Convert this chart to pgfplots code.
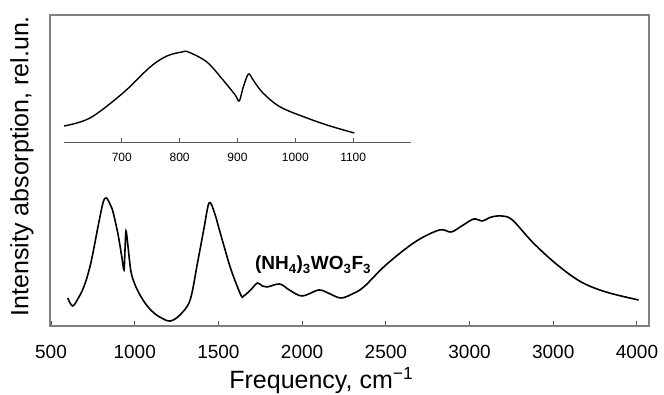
\documentclass[border=0pt]{standalone}
\usepackage{pgfplots}
\pgfplotsset{compat=1.18}
\usepackage{fontspec}
\setmainfont{Liberation Sans}
\begin{document}
\begin{tikzpicture}[x=1pt,y=1pt]
\useasboundingbox (-50,-69) rectangle (614,326);
\begin{axis}[
  name=main, at={(0pt,0pt)}, anchor=south west,
  scale only axis, width=599pt, height=311pt,
  xmin=494, xmax=4072, ymin=0, ymax=311,
  xtick={500,1000,1500,2000,2500,3000,3500,4000},
  xticklabels={500,1000,1500,2000,2500,3000,3000,4000},
  ytick=\empty,
  xtick pos=lower, tick align=inside, major tick length=5pt,
  axis line style={black!50, line width=1.3pt},
  every tick/.style={black!65, line width=1pt},
  /pgf/number format/assume math mode=true,
  xticklabel style={font=\fontsize{19}{19}\selectfont, anchor=center, yshift=-26pt, inner sep=0pt},
  xlabel={Frequency, cm\textsuperscript{−1}},
  ylabel={Intensity absorption, rel.un.},
  every axis x label/.style={at={(axis description cs:0.453,0)}, anchor=center, yshift=-55pt, font=\fontsize{25}{25}\selectfont},
  every axis y label/.style={at={(axis description cs:-0.0467,0.514)}, anchor=center, rotate=90, font=\fontsize{25}{25}\selectfont},
  clip=false,
]
\addplot[black, line width=1.6pt, smooth, tension=0.55] coordinates {
(600,28) (628,20) (660,27) (698,40) (738,63) (785,103) (812,124) (831,128) (855,121) (872,113)
(901,91) (924,68) (936,56) (942,76) (948,95) (959,81) (977,55) (1000,42) (1035,30)
(1075,20) (1115,13) (1160,8) (1212,5) (1270,11) (1331,26) (1375,63) (1412,96) (1444,123) (1475,114)
(1506,96) (1535,79) (1576,56) (1634,31) (1651,30) (1692,36) (1733,43) (1762,40)
(1791,39) (1866,42) (1924,36) (2000,30) (2098,36) (2155,33) (2230,28) (2299,32)
(2368,39) (2500,61) (2674,84) (2820,96) (2890,94) (2953,100) (3025,107) (3075,105)
(3131,109) (3194,110) (3256,106) (3381,83) (3525,61) (3667,44) (3815,34) (4010,26)
};
\node[font=\fontsize{19}{19}\selectfont\bfseries, anchor=center] at (axis cs:2065,61)
  {(NH\textsubscript{4})\textsubscript{3}WO\textsubscript{3}F\textsubscript{3}};
\end{axis}
\begin{axis}[
  name=inset, at={(14pt,183pt)}, anchor=south west,
  scale only axis, width=347pt, height=128pt,
  xmin=600, xmax=1200, ymin=0, ymax=128,
  axis x line=bottom, axis y line=none,
  axis line style={-, black!65, line width=1pt},
  xtick={700,800,900,1000,1100}, ytick=\empty,
  tick align=inside, major tick length=5pt,
  every tick/.style={black!65, line width=0.9pt},
  /pgf/number format/assume math mode=true,
  /pgf/number format/1000 sep={},
  xticklabel style={font=\fontsize{12}{12}\selectfont, anchor=center, yshift=-14pt, inner sep=0pt},
  clip=false,
]
\addplot[black, line width=1.4pt, smooth, tension=0.55] coordinates {
(600,17) (645,25) (702,50) (749,76) (778,87) (804,91) (815,91) (847,81) (875,63)
(896,48) (903,42) (910,56) (919,69) (927,63) (944,50) (974,36) (1020,25) (1060,17) (1102,10)
};
\end{axis}
\end{tikzpicture}
\end{document}
